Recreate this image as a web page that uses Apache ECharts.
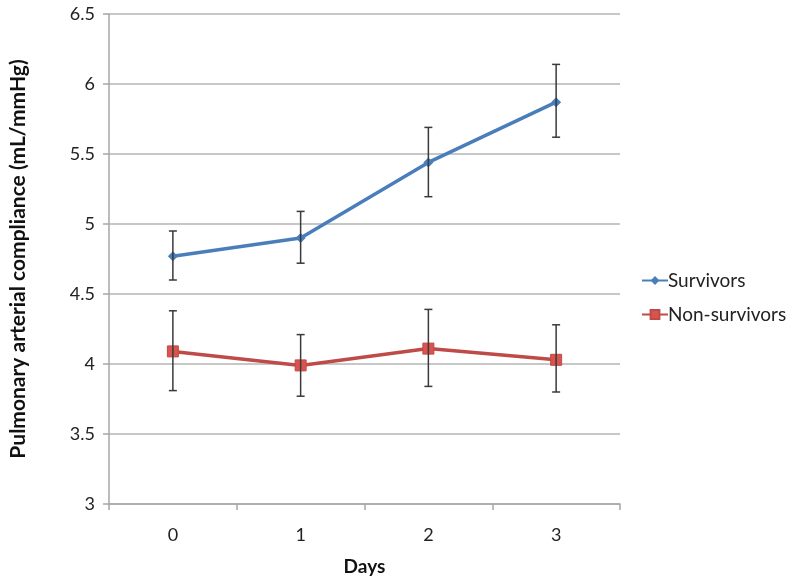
<!DOCTYPE html>
<html><head><meta charset="utf-8">
<script src="https://cdn.jsdelivr.net/npm/echarts@6/dist/echarts.min.js"></script>
<style>html,body{margin:0;padding:0;background:#fff}#c{width:800px;height:588px}</style>
</head><body><div id="c"></div>
<script>
const days = ['0','1','2','3'];
const survivors = [4.77, 4.90, 5.44, 5.87];
const survivorsLow = [4.60, 4.72, 5.195, 5.62];
const survivorsHigh = [4.95, 5.09, 5.69, 6.14];
const nonSurvivors = [4.09, 3.99, 4.11, 4.03];
const nonSurvivorsLow = [3.81, 3.77, 3.84, 3.80];
const nonSurvivorsHigh = [4.38, 4.21, 4.39, 4.28];

function errData(low, high){ return days.map((d,i)=>[i, low[i], high[i]]); }
function errRender(params, api){
  const x = api.value(0);
  const lo = api.coord([x, api.value(1)]);
  const hi = api.coord([x, api.value(2)]);
  const w = 4;
  const st = {stroke:'#3a3a3a', lineWidth:1.5};
  return {type:'group', children:[
    {type:'line', shape:{x1:lo[0],y1:lo[1],x2:hi[0],y2:hi[1]}, style:st},
    {type:'line', shape:{x1:lo[0]-w,y1:lo[1],x2:lo[0]+w,y2:lo[1]}, style:st},
    {type:'line', shape:{x1:hi[0]-w,y1:hi[1],x2:hi[0]+w,y2:hi[1]}, style:st}
  ]};
}
const font = 'Lato, "Open Sans", sans-serif';
const chart = echarts.init(document.getElementById('c'));
chart.setOption({
  animation:false,
  textStyle:{fontFamily:font},
  grid:{left:109, right:180, top:14, bottom:84},
  legend:{
    orient:'vertical', left:636, top:266, itemGap:15, itemWidth:26, itemHeight:11,
    textStyle:{fontSize:19, color:'#222', fontFamily:font, padding:[0,0,0,-5]},
    data:['Survivors','Non-survivors']
  },
  xAxis:{
    type:'category', data:days, boundaryGap:true,
    name:'Days', nameLocation:'middle', nameGap:53,
    nameTextStyle:{fontSize:19, fontWeight:'bold', color:'#111'},
    axisLine:{lineStyle:{color:'#a6a6a6', width:1.5}},
    axisTick:{show:true, length:6, lineStyle:{color:'#a6a6a6', width:1.5}},
    axisLabel:{fontSize:18, color:'#222', margin:22}
  },
  yAxis:{
    type:'value', min:3, max:6.5, interval:0.5,
    name:'Pulmonary arterial compliance (mL/mmHg)', nameLocation:'middle', nameGap:80,
    nameTextStyle:{fontSize:21, fontWeight:'bold', color:'#111'},
    axisLine:{show:true, lineStyle:{color:'#a6a6a6', width:1.5}},
    axisTick:{show:true, length:6, lineStyle:{color:'#a6a6a6', width:1.5}},
    splitLine:{lineStyle:{color:'#b4b4b4', width:1.5}},
    axisLabel:{fontSize:18, color:'#222', margin:14}
  },
  series:[
    {name:'Survivors', type:'line', data:survivors, symbol:'diamond', symbolSize:10,
     itemStyle:{color:'#4a7ebb'}, lineStyle:{color:'#4a7ebb', width:3.5}, z:3},
    {name:'Non-survivors', type:'line', data:nonSurvivors, symbol:'rect', symbolSize:11,
     itemStyle:{color:'#d9534f', borderColor:'#be4b48', borderWidth:1}, lineStyle:{color:'#be4b48', width:3.5}, z:3},
    {type:'custom', data:errData(survivorsLow, survivorsHigh), renderItem:errRender, z:4, silent:true},
    {type:'custom', data:errData(nonSurvivorsLow, nonSurvivorsHigh), renderItem:errRender, z:4, silent:true}
  ]
});
</script></body></html>
